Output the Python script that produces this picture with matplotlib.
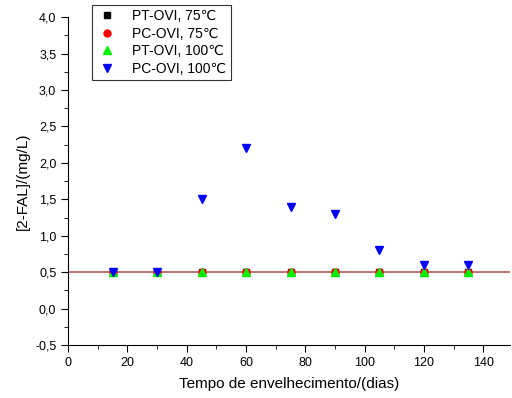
import numpy as np
import matplotlib.pyplot as plt
from matplotlib.ticker import MultipleLocator, FuncFormatter

plt.rcParams['font.family'] = ['Liberation Sans', 'DejaVu Sans']

days = [15, 30, 45, 60, 75, 90, 105, 120, 135]
pt_75 = [0.5, 0.5, 0.5, 0.5, 0.5, 0.5, 0.5, 0.5, 0.5]
pc_75 = [0.5, 0.5, 0.5, 0.5, 0.5, 0.5, 0.5, 0.5, 0.5]
pt_100 = [0.5, 0.5, 0.5, 0.5, 0.5, 0.5, 0.5, 0.5, 0.5]
pc_100 = [0.5, 0.5, 1.5, 2.2, 1.4, 1.3, 0.8, 0.6, 0.6]
limit = 0.5

fig = plt.figure(figsize=(5.12, 3.98), dpi=100)
ax = fig.add_axes([0.133, 0.133, 0.863, 0.824])

ax.axhline(limit, color="#b85a5a", lw=1.2, zorder=1)
ax.plot(days, pt_75, 's', color="black", ms=5, ls='none', label='PT-OVI, 75\u2103', zorder=2)
ax.plot(days, pc_75, 'o', color="red", ms=5, ls='none', label='PC-OVI, 75\u2103', zorder=3)
ax.plot(days, pt_100, '^', color="#00ee00", ms=6, ls='none', label='PT-OVI, 100\u2103', zorder=4)
ax.plot(days, pc_100, 'v', color="blue", ms=6, ls='none', label='PC-OVI, 100\u2103', zorder=5)

ax.set_xlim(0, 149)
ax.set_ylim(-0.5, 4.0)
ax.xaxis.set_major_locator(MultipleLocator(20))
ax.xaxis.set_minor_locator(MultipleLocator(10))
ax.yaxis.set_major_locator(MultipleLocator(0.5))
ax.yaxis.set_minor_locator(MultipleLocator(0.25))
ax.yaxis.set_major_formatter(FuncFormatter(lambda v, p: "{:.1f}".format(v).replace('.', ',')))
ax.spines['top'].set_visible(False)
ax.spines['right'].set_visible(False)
ax.tick_params(which='major', length=5, labelsize=9)
ax.tick_params(which='minor', length=3)

ax.set_xlabel('Tempo de envelhecimento/(dias)', fontsize=11, labelpad=6)
ax.set_ylabel('[2-FAL]/(mg/L)', fontsize=11)

leg = ax.legend(loc='upper left', bbox_to_anchor=(0.054, 1.037), fontsize=10, fancybox=False,
                edgecolor='black', handletextpad=1.0, borderpad=0.3, labelspacing=0.25,
                handlelength=1.6, borderaxespad=0)
leg.get_frame().set_linewidth(0.8)

plt.savefig("out.png", dpi=100)
